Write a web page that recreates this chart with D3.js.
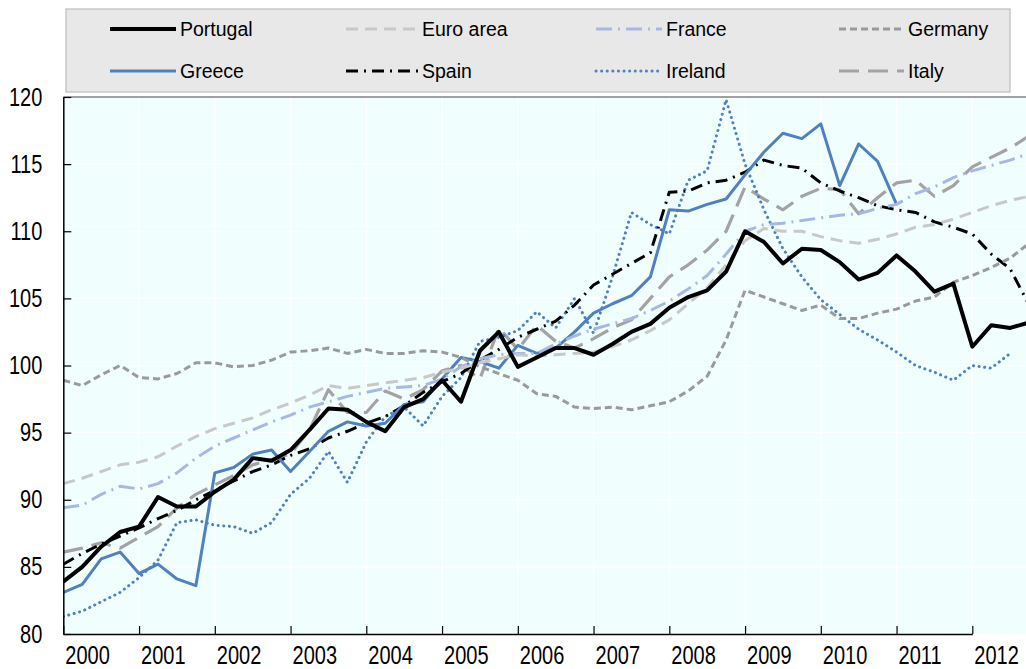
<!DOCTYPE html>
<html>
<head>
<meta charset="utf-8">
<script src="https://cdn.jsdelivr.net/npm/d3@7"></script>
<style>
  body { margin: 0; background: #ffffff; }
  svg { display: block; font-family: "Liberation Sans", Arial, sans-serif; }
</style>
</head>
<body>
<svg id="chart"></svg>
<script>
// quarterly index, 2000Q1 = first value
const startYear = 2000;
const yearTicks = [2000, 2001, 2002, 2003, 2004, 2005, 2006, 2007, 2008, 2009, 2010, 2011, 2012];
const yTicks = [80, 85, 90, 95, 100, 105, 110, 115, 120];

const portugal = [83.9, 85.0, 86.5, 87.6, 88.0, 90.2, 89.5, 89.5, 90.6, 91.5, 93.1, 92.9, 93.7, 95.2, 96.8, 96.7,
  95.8, 95.1, 96.9, 97.5, 98.9, 97.3, 101.1, 102.5, 99.9, 100.6, 101.3, 101.3, 100.8, 101.6, 102.5, 103.1,
  104.3, 105.1, 105.6, 107.0, 110.0, 109.2, 107.6, 108.7, 108.6, 107.7, 106.4, 106.9, 108.2, 107.0, 105.5, 106.1,
  101.4, 103.0, 102.8, 103.2];
const euroArea = [91.2, 91.6, 92.1, 92.6, 92.8, 93.2, 94.0, 94.7, 95.3, 95.7, 96.1, 96.7, 97.2, 97.8, 98.5, 98.3,
  98.5, 98.7, 98.9, 99.1, 99.5, 99.8, 100.2, 100.5, 100.8, 100.7, 100.8, 100.9, 101.0, 101.4, 101.9, 102.6,
  103.4, 104.6, 105.8, 107.5, 109.3, 110.2, 110.0, 110.0, 109.6, 109.3, 109.1, 109.4, 109.8, 110.3, 110.5, 110.9,
  111.4, 111.9, 112.3, 112.6];
const france = [89.4, 89.6, 90.4, 91.0, 90.8, 91.2, 92.0, 93.1, 94.0, 94.6, 95.2, 95.8, 96.3, 96.9, 97.3, 97.7,
  98.0, 98.3, 98.4, 98.5, 99.0, 99.9, 100.5, 100.8, 100.9, 100.9, 101.6, 102.2, 102.7, 103.1, 103.5, 104.1,
  104.8, 105.7, 106.7, 108.3, 110.0, 110.5, 110.6, 110.8, 111.0, 111.2, 111.3, 111.7, 112.0, 112.8, 113.3, 114.0,
  114.5, 114.9, 115.3, 115.8];
const germany = [98.9, 98.5, 99.3, 100.0, 99.1, 99.0, 99.4, 100.2, 100.2, 99.9, 100.0, 100.4, 101.0, 101.1, 101.3, 100.9,
  101.2, 100.9, 100.9, 101.1, 101.0, 100.6, 99.9, 99.4, 98.9, 97.9, 97.7, 96.9, 96.8, 96.9, 96.7, 97.0,
  97.3, 98.1, 99.2, 101.9, 105.6, 105.1, 104.6, 104.1, 104.5, 103.5, 103.5, 103.9, 104.2, 104.8, 105.1, 106.2,
  106.7, 107.3, 108.0, 109.1];
const greece = [83.1, 83.7, 85.6, 86.1, 84.5, 85.2, 84.1, 83.6, 92.0, 92.4, 93.4, 93.7, 92.1, 93.6, 95.1, 95.8,
  95.5, 95.7, 97.1, 97.3, 99.0, 100.6, 100.3, 99.8, 101.5, 100.9, 101.3, 102.5, 103.9, 104.6, 105.2, 106.6,
  111.6, 111.5, 112.0, 112.4, 114.2, 115.9, 117.3, 116.9, 118.0, 113.4, 116.5, 115.2, 112.0];
const spain = [85.2, 86.0, 86.7, 87.3, 87.9, 88.6, 89.2, 90.0, 90.7, 91.4, 92.1, 92.6, 93.3, 93.8, 94.6, 95.1,
  95.7, 96.2, 97.0, 98.0, 98.8, 99.4, 100.4, 101.2, 102.1, 102.7, 103.3, 104.5, 106.0, 106.8, 107.6, 108.4,
  112.9, 113.0, 113.6, 113.8, 114.4, 115.3, 114.9, 114.7, 113.6, 113.0, 112.5, 111.9, 111.6, 111.4, 110.7, 110.3,
  109.8, 108.3, 107.2, 104.5];
const ireland = [81.3, 81.7, 82.4, 83.1, 84.2, 85.5, 88.3, 88.5, 88.1, 88.0, 87.5, 88.3, 90.4, 91.6, 93.6, 91.3,
  94.3, 96.2, 96.9, 95.5, 97.7, 99.1, 101.8, 102.1, 102.6, 104.0, 102.8, 105.0, 102.4, 106.6, 111.4, 110.5,
  109.8, 113.8, 114.5, 119.8, 115.0, 111.6, 108.7, 106.6, 104.9, 103.8, 102.7, 101.9, 101.0, 100.0, 99.5, 98.9,
  100.0, 99.8, 100.9];
const italy = [86.1, 86.4, 86.8, 86.4, 87.2, 88.0, 89.4, 90.4, 91.1, 91.8, 92.6, 93.0, 93.4, 95.2, 98.2, 96.5,
  96.5, 98.1, 97.5, 98.2, 99.6, 100.0, 99.0, 102.8, 101.2, 103.0, 101.8, 101.3, 102.0, 102.8, 103.4, 105.0,
  106.6, 107.5, 108.6, 110.0, 113.3, 112.4, 111.6, 112.6, 113.2, 113.1, 111.3, 112.5, 113.6, 113.8, 112.6, 113.4,
  114.8, 115.5, 116.2, 117.1];

// legend order (drawn in reverse so Portugal ends up on top)
const seriesNames = ["Portugal", "Euro area", "France", "Germany", "Greece", "Spain", "Ireland", "Italy"];
const seriesValues = [portugal, euroArea, france, germany, greece, spain, ireland, italy];

const styles = {
  "Portugal":  {color: "#000000", width: 4,   dash: null,            cap: "butt"},
  "Euro area": {color: "#c8c8c8", width: 3,   dash: "12,7",          cap: "butt"},
  "France":    {color: "#a7b8e2", width: 3,   dash: "16,6,2,6",      cap: "butt"},
  "Germany":   {color: "#9a9a9a", width: 3,   dash: "7,4",           cap: "butt"},
  "Greece":    {color: "#4f81bd", width: 3,   dash: null,            cap: "butt"},
  "Spain":     {color: "#000000", width: 3,   dash: "12,6,2,6",      cap: "butt"},
  "Ireland":   {color: "#4f81bd", width: 3,   dash: "0.1,5.5",       cap: "round"},
  "Italy":     {color: "#a3a3a3", width: 3.2, dash: "20,9",          cap: "butt"}
};

const W = 1026, H = 669;
const plot = {left: 63.3, top: 97, bottom: 634, right: 1026};

const svg = d3.select("#chart").attr("width", W).attr("height", H);

const xScale = d3.scaleLinear()
  .domain([0, (yearTicks[yearTicks.length - 1] - startYear) * 4])
  .range([plot.left, 972.3]);

const yScale = d3.scaleLinear()
  .domain([80, 120])
  .range([plot.bottom, plot.top]);

// plot background
svg.append("rect")
  .attr("x", plot.left).attr("y", plot.top)
  .attr("width", plot.right - plot.left).attr("height", plot.bottom - plot.top)
  .attr("fill", "#f1fefe");

// white gridlines
const yearQ = yearTicks.map(y => (y - startYear) * 4);
svg.append("g").selectAll("line").data(yearQ.slice(1)).join("line")
  .attr("x1", d => xScale(d)).attr("x2", d => xScale(d))
  .attr("y1", plot.top).attr("y2", plot.bottom)
  .attr("stroke", "#ffffff").attr("stroke-width", 1.2);
svg.append("g").selectAll("line").data(yTicks.slice(1, -1)).join("line")
  .attr("x1", plot.left).attr("x2", plot.right)
  .attr("y1", d => yScale(d)).attr("y2", d => yScale(d))
  .attr("stroke", "#ffffff").attr("stroke-width", 1.2);

svg.append("clipPath").attr("id", "plotClip")
  .append("rect")
  .attr("x", plot.left).attr("y", plot.top - 2)
  .attr("width", plot.right - plot.left).attr("height", plot.bottom - plot.top + 2);

const line = d3.line()
  .x((d, i) => xScale(i))
  .y(d => yScale(d));

const lines = svg.append("g").attr("clip-path", "url(#plotClip)");
seriesNames.slice().reverse().forEach(name => {
  const s = styles[name];
  const vals = seriesValues[seriesNames.indexOf(name)];
  lines.append("path")
    .datum(vals)
    .attr("d", line)
    .attr("fill", "none")
    .attr("stroke", s.color)
    .attr("stroke-width", s.width)
    .attr("stroke-dasharray", s.dash)
    .attr("stroke-linecap", s.cap)
    .attr("stroke-linejoin", "round");
});

// top border of plot
svg.append("line")
  .attr("x1", plot.left).attr("x2", plot.right)
  .attr("y1", plot.top).attr("y2", plot.top)
  .attr("stroke", "#444").attr("stroke-width", 1.2);

// axes
const yAxis = d3.axisLeft(yScale)
  .tickValues(yTicks)
  .tickSizeInner(-8).tickSizeOuter(0)
  .tickPadding(21);

const yAxisG = svg.append("g")
  .attr("transform", `translate(${plot.left},0)`)
  .call(yAxis);
yAxisG.select(".domain").attr("stroke", "#000").attr("stroke-width", 1.5);
yAxisG.selectAll(".tick line").attr("stroke", "#000").attr("stroke-width", 1.2);
yAxisG.selectAll(".tick text")
  .attr("font-size", 20).attr("fill", "#000")
  .attr("font-family", "Liberation Sans, Arial, sans-serif")
  .attr("transform", "scale(1,1.25)");

const xAxis = d3.axisBottom(xScale)
  .tickValues(yearQ)
  .tickFormat(q => startYear + q / 4)
  .tickSizeInner(-8).tickSizeOuter(0);

const xAxisG = svg.append("g")
  .attr("transform", `translate(0,${plot.bottom})`)
  .call(xAxis);
xAxisG.select(".domain").attr("stroke", "#000").attr("stroke-width", 1.5);
xAxisG.selectAll(".tick line").attr("stroke", "#000").attr("stroke-width", 1.2);
xAxisG.selectAll(".tick text")
  .attr("font-size", 20).attr("fill", "#000")
  .attr("font-family", "Liberation Sans, Arial, sans-serif")
  .attr("text-anchor", "start")
  .attr("x", 1.5).attr("y", 24).attr("dy", 0)
  .attr("transform", "scale(1,1.25)");

// legend
const legend = svg.append("g");
legend.append("rect")
  .attr("x", 66).attr("y", 9).attr("width", 944).attr("height", 83)
  .attr("fill", "#e8e8e8").attr("stroke", "#bcbcbc").attr("stroke-width", 1.2);

const colLine = [110, 346, 596, 839];
const colText = [180, 422, 666, 908];
const rowY = [29, 71];

seriesNames.forEach((name, i) => {
  const s = styles[name];
  const c = i % 4, r = Math.floor(i / 4);
  legend.append("line")
    .attr("x1", colLine[c]).attr("x2", colText[c] - 4)
    .attr("y1", rowY[r]).attr("y2", rowY[r])
    .attr("stroke", s.color)
    .attr("stroke-width", s.width)
    .attr("stroke-dasharray", s.dash)
    .attr("stroke-linecap", s.cap);
  legend.append("text")
    .attr("x", colText[c]).attr("y", rowY[r])
    .attr("dy", "0.35em")
    .attr("font-size", 19.5)
    .attr("fill", "#000")
    .text(name);
});
</script>
</body>
</html>
